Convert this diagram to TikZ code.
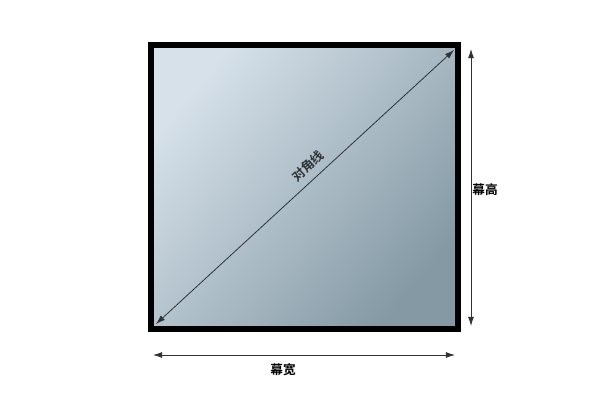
\documentclass[tikz,border=0pt]{standalone}
\usepackage{fontspec}
\newfontfamily\cjk{Noto Sans CJK SC}[BoldFont=* Bold]
\usetikzlibrary{arrows.meta}

\definecolor{screenlight}{HTML}{D6E1EA}
\definecolor{screenmid}{HTML}{C6D3DC}
\definecolor{screendark}{HTML}{8499A4}
\definecolor{dimgray}{HTML}{2E3336}

\begin{document}
\begin{tikzpicture}[x = 0.025cm, y = -0.025cm,
    dimline/.style = {{Latex[length=2.3mm,width=1.5mm]}-{Latex[length=2.3mm,width=1.5mm]},
        line width = 0.2mm, dimgray},
    dimlabel/.style = {font=\cjk\bfseries\fontsize{9}{10}\selectfont, inner sep=1pt}]

    \useasboundingbox (0, 0) rectangle (600, 400);

    % screen
    \shade[top color = screenlight, middle color = screenmid, bottom color = screendark,
        shading angle = 50]
        (151, 45) rectangle (458, 329);
    \draw[line width = 0.15cm]
        (151, 45) rectangle (458, 329);

    % end points of the dimensions
    \coordinate (diagA) at (156, 324);
    \coordinate (diagB) at (454, 50);
    \coordinate (highA) at (471, 49);
    \coordinate (highB) at (471, 326);
    \coordinate (wideA) at (153, 355);
    \coordinate (wideB) at (455, 355);

    \draw[dimline]
        (diagA) -- node[dimlabel, sloped, above = 4pt, pos = 0.54] (diaglabel) {对角线} (diagB);
    \draw[dimline]
        (highA) -- (highB);
    \draw[dimline]
        (wideA) -- (wideB);

    \node[dimlabel] (highlabel) at (485, 190) {幕高};
    \node[dimlabel] (widelabel) at (283, 370) {幕宽};

\end{tikzpicture}
\end{document}
